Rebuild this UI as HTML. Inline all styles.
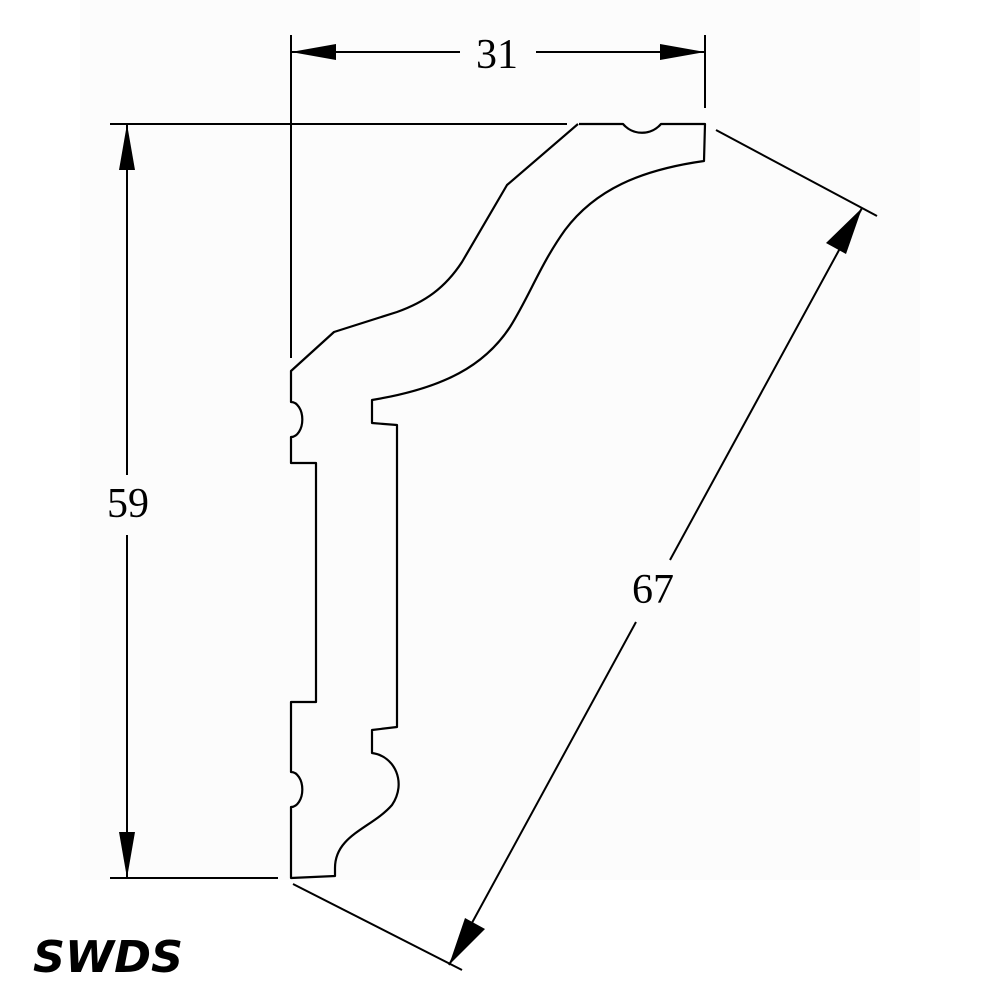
<!DOCTYPE html>
<html><head><meta charset="utf-8"><style>html,body{margin:0;padding:0;background:#fff}svg{display:block}</style></head>
<body>
<svg width="1000" height="1000" viewBox="0 0 1000 1000" xmlns="http://www.w3.org/2000/svg">
<rect x="80" y="0" width="840" height="880" fill="#fcfcfc"/>
<g fill="none" stroke="#000" stroke-width="2.2" stroke-linejoin="round">
<path d="M579,124 L623,124 A25,25 0 0 0 661,124 L705,124 L704,161 C640,170 595,190 565,230 C540,265 530,295 510,327 C485,365 445,388 372,400 L372,423 L397,425 L397,727 L372,730 L372,753 C395,756 407,783 392,805 C372,828 335,835 335,868 L335,876 L291,878 L291,807 A11,17 0 0 0 291,772 L291,702 L316,702 L316,463 L291,463 L291,437 A11,17 0 0 0 291,402 L291,371 L334,332 L397,312 C425,302 445,288 462,262 L507,185 L578,124"/>
</g>
<g stroke="#000" stroke-width="2" fill="none">
<line x1="291" y1="35" x2="291" y2="358"/>
<line x1="705" y1="35" x2="705" y2="108"/>
<line x1="291" y1="52" x2="460" y2="52"/>
<line x1="536" y1="52" x2="705" y2="52"/>
<line x1="110" y1="124" x2="567" y2="124"/>
<line x1="110" y1="878" x2="278" y2="878"/>
<line x1="127" y1="124" x2="127" y2="475"/>
<line x1="127" y1="535" x2="127" y2="878"/>
<line x1="716" y1="130" x2="877" y2="216"/>
<line x1="293" y1="884" x2="462" y2="970"/>
<line x1="862" y1="208" x2="670" y2="560"/>
<line x1="636" y1="622" x2="449" y2="965"/>
</g>
<g fill="#000">
<polygon points="291,52 336,44 336,60"/>
<polygon points="705,52 660,44 660,60"/>
<polygon points="127,124 119,170 135,170"/>
<polygon points="127,878 119,832 135,832"/>
<polygon points="862,208 826,243 846,254"/>
<polygon points="449,965 465,918 485,929"/>
</g>
<g font-family="Liberation Serif, serif" font-size="42" fill="#000" text-anchor="middle">
<text x="497" y="68">31</text>
<text x="128" y="517">59</text>
<text x="653" y="603">67</text>
</g>
<text x="33" y="972" font-family="DejaVu Sans, sans-serif" font-weight="bold" font-style="italic" font-size="44" textLength="150" lengthAdjust="spacingAndGlyphs" fill="#000">SWDS</text>
</svg>
</body></html>
